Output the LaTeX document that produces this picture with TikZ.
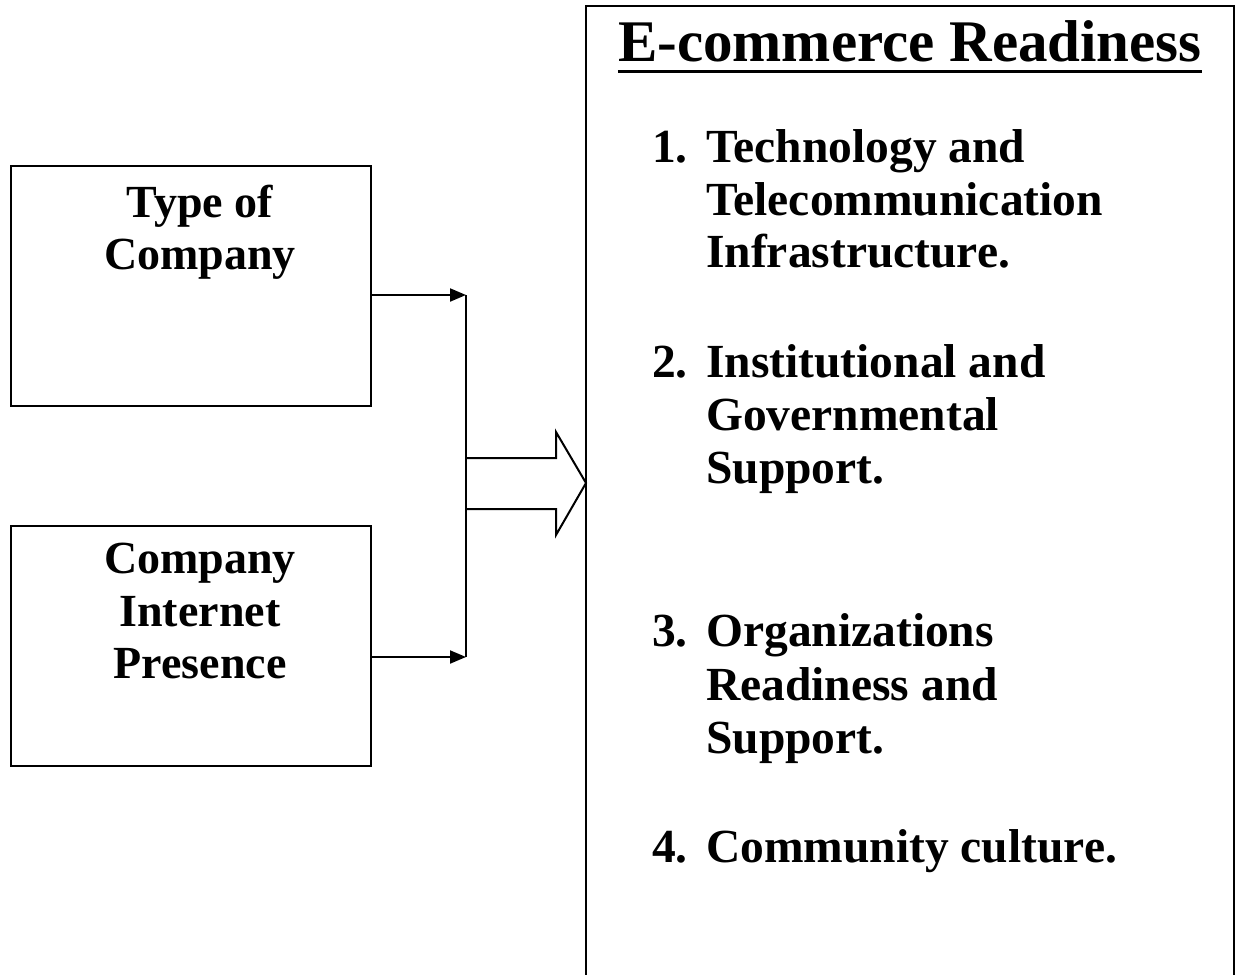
\documentclass[tikz,border=0pt]{standalone}
\usepackage{fontspec}
\setmainfont{Liberation Serif}
\usetikzlibrary{arrows.meta}
\begin{document}
\begin{tikzpicture}[x=1pt,y=-1pt,
  frame/.style={draw,line width=2pt},
  inbox/.style={frame,rectangle,minimum width=360pt,minimum height=240pt,anchor=north west,inner sep=0pt},
  label/.style={inner sep=0pt,font=\bfseries\fontsize{46}{53}\selectfont},
  itemtxt/.style={inner sep=0pt,anchor=base west,font=\bfseries\fontsize{47.5}{53}\selectfont},
  feed/.style={line width=2pt,-{Triangle[length=16pt,width=13pt]}}]
\useasboundingbox (0,0) rectangle (1238,974);
\clip (0,0) rectangle (1238,974);
\fill[white] (0,0) rectangle (1238,974);

% input boxes
\node[inbox] (type) at (10,165) {};
\node[inbox] (presence) at (10,525) {};
\node[label,anchor=base] (t1) at (200,217) {Type of};
\node[label,anchor=base] (t2) at (200,269) {Company};
\node[label,anchor=base] (p1) at (200,573) {Company};
\node[label,anchor=base] (p2) at (200,626) {Internet};
\node[label,anchor=base] (p3) at (200,678) {Presence};

% readiness box, open at the bottom
\node[frame,rectangle,anchor=north west,minimum width=648pt,minimum height=1000pt,inner sep=0pt] (ready) at (585,5) {};

% connectors into the collecting bar
\coordinate (jtop) at (466,295);
\coordinate (jbot) at (466,657);
\draw[feed] (type.east |- jtop) -- (jtop);
\draw[feed] (presence.east |- jbot) -- (jbot);
\draw[line width=2pt] (jtop) -- (jbot);

% block arrow into the readiness box
\coordinate (s1) at (466,458);
\coordinate (s2) at (556,458);
\coordinate (h1) at (556,432);
\coordinate (tip) at (586,483);
\coordinate (h2) at (556,535);
\coordinate (s3) at (556,509);
\coordinate (s4) at (466,509);
\draw[line width=2pt,line join=miter] (s1) -- (s2) -- (h1) -- (tip) -- (h2) -- (s3) -- (s4);

% title
\node[inner sep=0pt,anchor=base,font=\bfseries\fontsize{59}{66}\selectfont] (title) at (910,62) {E-commerce Readiness};
\draw[line width=3pt] ([yshift=-9pt]title.base west) -- ([yshift=-9pt]title.base east);

% list of readiness factors
\node[itemtxt] (n1) at (652,162) {1.};
\node[itemtxt] (a1) at (706,162) {Technology and};
\node[itemtxt] (a2) at (706,215) {Telecommunication};
\node[itemtxt] (a3) at (706,267) {Infrastructure.};

\node[itemtxt] (n2) at (652,377) {2.};
\node[itemtxt] (b1) at (706,377) {Institutional and};
\node[itemtxt] (b2) at (706,430) {Governmental};
\node[itemtxt] (b3) at (706,483) {Support.};

\node[itemtxt] (n3) at (652,646) {3.};
\node[itemtxt] (c1) at (706,646) {Organizations};
\node[itemtxt] (c2) at (706,700) {Readiness and};
\node[itemtxt] (c3) at (706,753) {Support.};

\node[itemtxt] (n4) at (652,862) {4.};
\node[itemtxt] (d1) at (706,862) {Community culture.};
\end{tikzpicture}
\end{document}
